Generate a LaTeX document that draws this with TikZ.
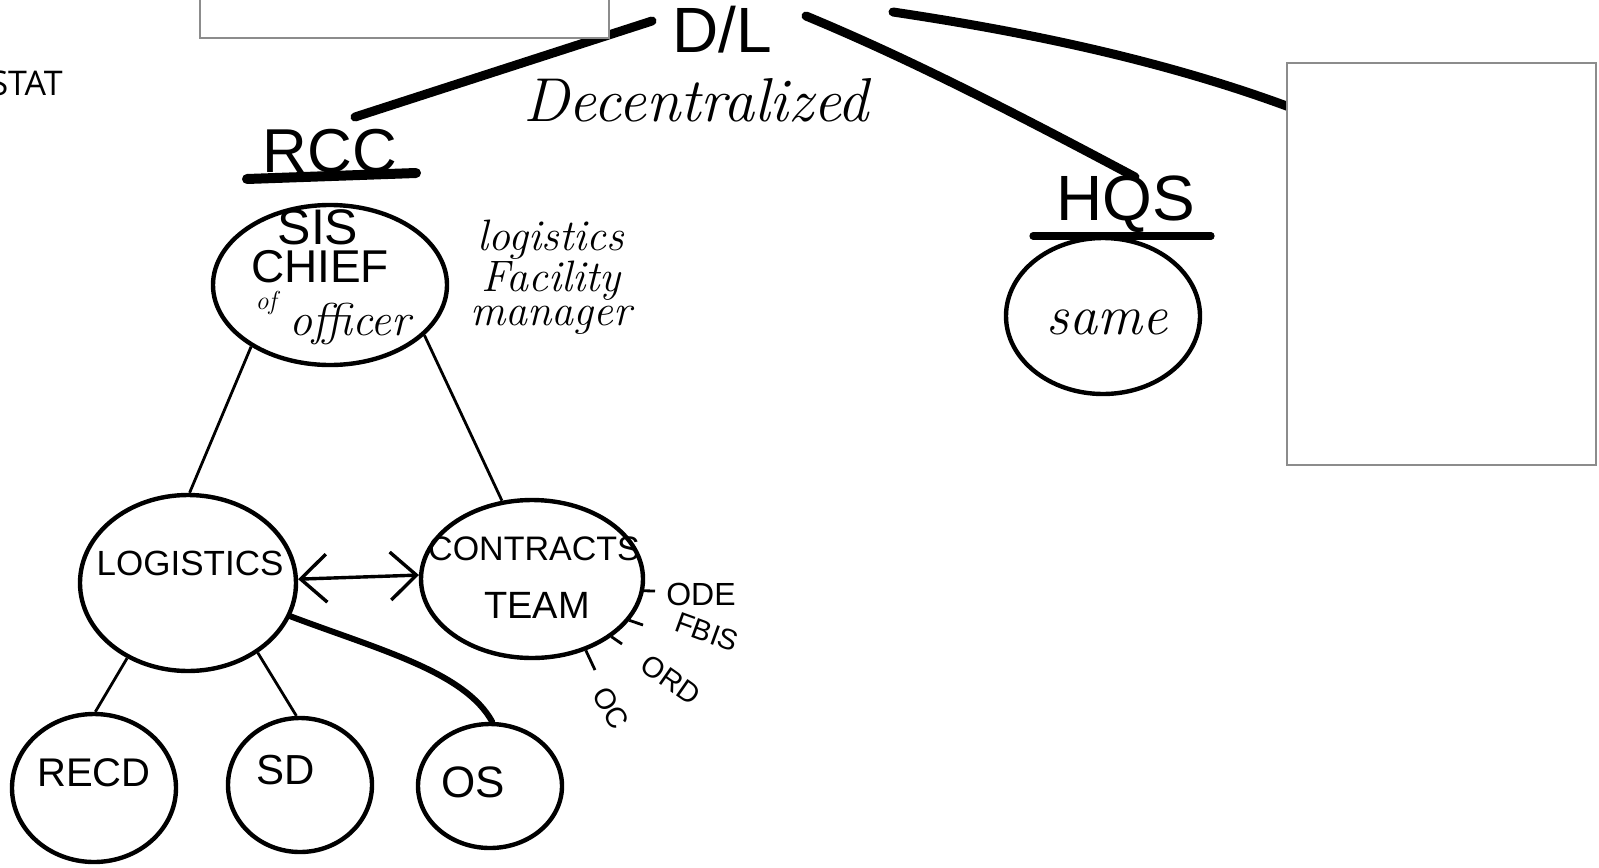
\documentclass[tikz,border=0pt]{standalone}
\usepackage{fontspec}
\newfontfamily\lab{Liberation Sans}
\newfontfamily\statfont{Open Sans}
\usetikzlibrary{shapes.geometric,arrows.meta}
\begin{document}
\begin{tikzpicture}[x=0.5pt,y=-0.5pt,
  bubble/.style={draw, ellipse, line width=2.2pt, inner sep=0pt},
  thinlink/.style={line width=1.4pt},
  heavy/.style={line width=4.5pt, line cap=round},
  underl/.style={line width=3.6pt, line cap=round},
  boxframe/.style={draw=black!45, line width=0.6pt, fill=white},
  txt/.style={inner sep=0pt, anchor=center},
  capsf/.style={txt, font=\lab\fontsize{#1}{#1}\selectfont},
  handf/.style={txt, font=\itshape\fontsize{#1}{#1}\selectfont},
  barb/.tip={Straight Barb[length=13pt,width=24pt]}
]
\useasboundingbox (0,0) rectangle (1599,867);

% ---- named coordinates for free ends
\coordinate (dlA) at (652,21);
\coordinate (rccEnd) at (355,117);
\coordinate (dlB) at (806,16);
\coordinate (hqsEnd) at (1135,177);
\coordinate (dlC) at (893,12);
\coordinate (boxEnd) at (1292,108);

% ---- heavy strokes from D/L
\draw[heavy] (dlA) -- (rccEnd);
\draw[heavy] (dlB) .. controls (900,55) and (1000,105) .. (hqsEnd);
\draw[heavy] (dlC) .. controls (1000,28) and (1150,55) .. (boxEnd);

% ---- empty frames
\draw[boxframe] (200,-5) rectangle (609,38);
\draw[boxframe] (1287,63) rectangle (1596,465);

% ---- STAT (cut at the left edge, as in the reference)
\node[txt, anchor=east, font=\statfont\fontsize{17}{18}\selectfont] (stat) at (63,83) {STAT};

% ---- top texts
\node[capsf=32] (dl) at (722,30) {D/L};
\node[handf=31] (dec) at (696,100) {Decentralized};

% ---- RCC
\node[capsf=31] (rcc) at (330,151) {RCC};
\coordinate (rccU1) at (247,179);
\coordinate (rccU2) at (416,173);
\draw[underl, line width=5pt] (rccU1) -- (rccU2);

% ---- HQS
\node[capsf=32] (hqs) at (1126,204) {HQS};
\coordinate (hqsU1) at (1033,236);
\coordinate (hqsU2) at (1211,236);
\draw[underl] (hqsU1) -- (hqsU2);

% ---- bubbles
\node[bubble, minimum width=117pt, minimum height=80pt] (sis) at (330,285) {};
\node[bubble, minimum width=108pt, minimum height=88pt] (logi) at (188,583) {};
\node[bubble, minimum width=111pt, minimum height=79pt] (contr) at (532,579) {};
\node[bubble, minimum width=97pt, minimum height=78pt] (same) at (1103,316) {};
\node[bubble, minimum width=82pt, minimum height=74pt] (recd) at (94,788) {};
\node[bubble, minimum width=72pt, minimum height=67pt] (sd) at (300,785) {};
\node[bubble, minimum width=72pt, minimum height=62pt] (os) at (490,786) {};

% ---- bubble texts
\node[capsf=25] (tsis) at (318,227) {SIS};
\node[capsf=23] (tchief) at (320,267) {CHIEF};
\node[handf=13] (tof) at (266,303) {of};
\node[handf=23] (toff) at (350,324) {officer};
\node[txt, align=center, font=\itshape\fontsize{22}{17}\selectfont] (tlfm) at (551,277) {logistics\\Facility\\manager};
\node[capsf=17.5] (tlogi) at (190,563) {LOGISTICS};
\node[capsf=17] (tcon) at (534,549) {CONTRACTS};
\node[capsf=19] (tteam) at (537,605) {TEAM};
\node[capsf=20] (trecd) at (94,773) {RECD};
\node[capsf=21] (tsd) at (286,770) {SD};
\node[capsf=22] (tos) at (473,782) {OS};
\node[handf=28] (tsame) at (1107,322) {same};

% ---- links
\draw[thinlink] (sis.218) -- (logi.89);
\draw[thinlink] (sis.332) -- (contr.111);
\draw[thinlink] (logi.231) -- (recd.89);
\draw[thinlink] (logi.315) -- (sd.93);
\draw[thinlink, line width=1.7pt, barb-barb] (logi.2) -- (contr.178);
\draw[line width=3pt, line cap=round] (logi.-18) .. controls (380,650) and (465,672) .. (os.88);

% ---- contract sub-labels
\coordinate (k1) at (655,591);
\coordinate (k2) at (643,625);
\coordinate (k3) at (622,644);
\coordinate (k4) at (595,670);
\draw[thinlink] (contr.-6) -- (k1);
\draw[thinlink] (contr.-23) -- (k2);
\draw[thinlink] (contr.-36) -- (k3);
\draw[thinlink] (contr.-53) -- (k4);
\node[capsf=16] (ode) at (701,594) {ODE};
\node[capsf=14.5, rotate=-20] (fbis) at (707,632) {FBIS};
\node[capsf=14.5, rotate=-35] (ord) at (671,680) {ORD};
\node[capsf=14.5, rotate=-60] (oc) at (611,708) {OC};
\end{tikzpicture}
\end{document}
